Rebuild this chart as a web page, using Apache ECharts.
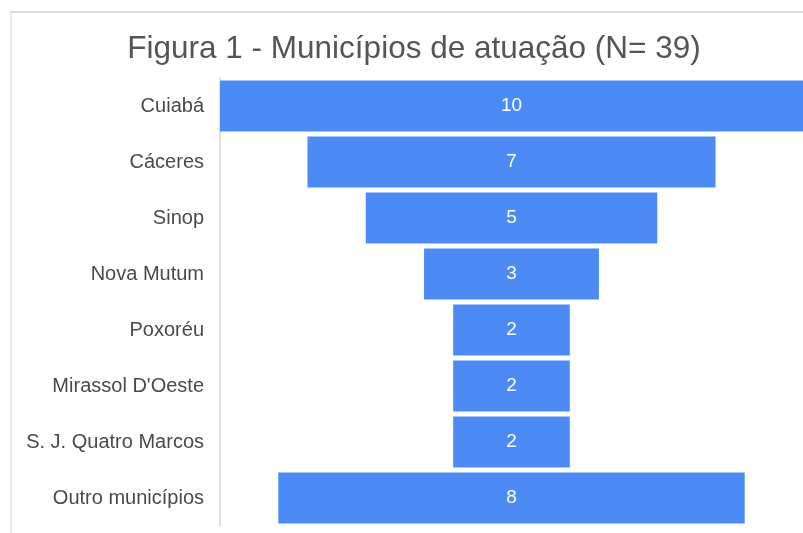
<!DOCTYPE html>
<html>
<head>
<meta charset="utf-8">
<script src="https://cdn.jsdelivr.net/npm/echarts@6/dist/echarts.min.js"></script>
<style>
html,body{margin:0;padding:0;background:#fff;}
#c{width:803px;height:533px;}
</style>
</head>
<body>
<div id="c"></div>
<script>
const title = 'Figura 1 - Municípios de atuação (N= 39)';
const categories = ['Cuiabá', 'Cáceres', 'Sinop', 'Nova Mutum', 'Poxoréu', "Mirassol D'Oeste", 'S. J. Quatro Marcos', 'Outro municípios'];
const values = [10, 7, 5, 3, 2, 2, 2, 8];
const maxValue = 10;

// layout helper: transparent spacer to centre each bar
const spacer = values.map(v => (maxValue - v) / 2);

const chart = echarts.init(document.getElementById('c'), null, {renderer: 'canvas'});
chart.setOption({
  animation: false,
  backgroundColor: '#fff',
  title: {
    text: title,
    left: 409,
    textAlign: 'center',
    top: 28,
    textStyle: {
      fontFamily: 'Liberation Sans, Arial, sans-serif',
      fontSize: 31.5,
      fontWeight: 'normal',
      color: '#555'
    }
  },
  graphic: [
    {type: 'line', shape: {x1: 10, y1: 12, x2: 803, y2: 12}, style: {stroke: '#dcdcdc', lineWidth: 2}},
    {type: 'line', shape: {x1: 11, y1: 12, x2: 11, y2: 533}, style: {stroke: '#e4e4e4', lineWidth: 1.5}}
  ],
  grid: {left: 220, right: 0, top: 78, height: 448, containLabel: false},
  xAxis: {
    type: 'value', min: 0, max: maxValue, show: false
  },
  yAxis: {
    type: 'category',
    data: categories,
    inverse: true,
    axisLine: {show: true, lineStyle: {color: '#d8d8d8', width: 1.5}},
    axisTick: {show: false},
    axisLabel: {
      margin: 16,
      fontFamily: 'Liberation Sans, Arial, sans-serif',
      fontSize: 20,
      color: '#4a4a4a'
    }
  },
  series: [
    {
      type: 'bar', stack: 's', data: spacer, barWidth: 51,
      itemStyle: {color: 'rgba(0,0,0,0)'}, silent: true
    },
    {
      type: 'bar', stack: 's', data: values, barWidth: 51,
      itemStyle: {color: '#4b8bf3'},
      label: {
        show: true, position: 'inside', color: '#fff',
        fontFamily: 'Liberation Sans, Arial, sans-serif', fontSize: 19
      }
    }
  ]
});
</script>
</body>
</html>
